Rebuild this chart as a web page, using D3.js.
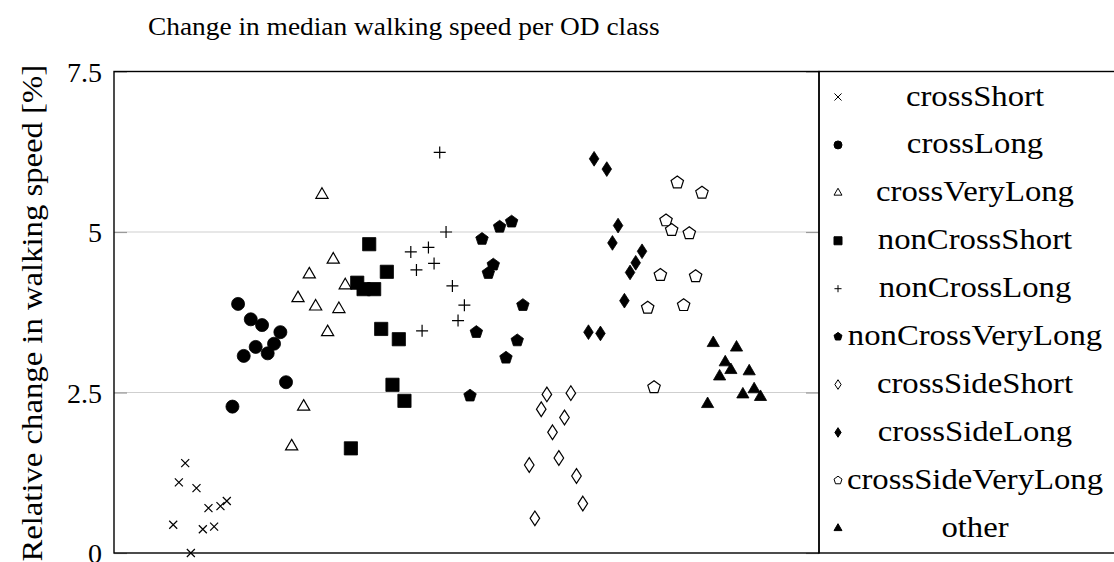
<!DOCTYPE html>
<html>
<head>
<meta charset="utf-8">
<script src="https://cdn.jsdelivr.net/npm/d3@7"></script>
<style>
  body { margin: 0; background: #fff; }
  text { font-family: "Liberation Serif", "DejaVu Serif", serif; fill: #000; }
</style>
</head>
<body>
<script>
const width = 1114;
const height = 562;

const classNames = ["crossShort", "crossLong", "crossVeryLong", "nonCrossShort", "nonCrossLong",
  "nonCrossVeryLong", "crossSideShort", "crossSideLong", "crossSideVeryLong", "other"];

const yTicks = [0, 2.5, 5, 7.5];
const yTickLabels = ["0", "2.5", "5", "7.5"];

// x is just a position along the axis (no ticks shown), y is % change
const crossShortX = [10.1, 9.2, 11.7, 13.4, 15.1, 16.0, 8.4, 12.6, 14.2, 10.9];
const crossShortY = [1.40, 1.10, 1.01, 0.70, 0.73, 0.81, 0.44, 0.37, 0.41, 0.0];
const crossLongX = [17.6, 19.4, 21.0, 23.6, 20.1, 22.7, 18.4, 21.8, 24.4, 16.8];
const crossLongY = [3.88, 3.64, 3.55, 3.44, 3.21, 3.26, 3.07, 3.11, 2.66, 2.28];
const crossVeryLongX = [29.5, 31.1, 27.7, 32.8, 26.1, 28.6, 31.9, 30.3, 26.9, 25.2];
const crossVeryLongY = [5.58, 4.57, 4.34, 4.17, 3.97, 3.84, 3.80, 3.44, 2.28, 1.66];
const nonCrossShortX = [36.2, 38.7, 34.5, 35.4, 36.9, 37.9, 40.4, 39.5, 41.2, 33.6];
const nonCrossShortY = [4.81, 4.38, 4.21, 4.11, 4.11, 3.49, 3.33, 2.62, 2.37, 1.63];
const nonCrossLongX = [46.2, 47.1, 42.1, 44.6, 42.9, 45.4, 48.0, 49.7, 48.8, 43.7];
const nonCrossLongY = [6.24, 5.00, 4.69, 4.76, 4.41, 4.51, 4.16, 3.86, 3.62, 3.46];
const nonCrossVeryLongX = [56.4, 54.7, 52.2, 53.8, 53.1, 58.0, 51.4, 57.2, 55.6, 50.5];
const nonCrossVeryLongY = [5.16, 5.08, 4.89, 4.49, 4.36, 3.86, 3.44, 3.31, 3.04, 2.45];
const crossSideShortX = [61.4, 64.8, 60.6, 63.9, 62.2, 63.1, 58.9, 65.6, 66.5, 59.7];
const crossSideShortY = [2.47, 2.49, 2.24, 2.11, 1.88, 1.48, 1.37, 1.20, 0.77, 0.54];
const crossSideLongX = [68.1, 69.9, 71.5, 70.7, 74.9, 74.0, 73.2, 72.4, 67.3, 69.0];
const crossSideLongY = [6.14, 5.98, 5.10, 4.83, 4.70, 4.52, 4.37, 3.93, 3.44, 3.42];
const crossSideVeryLongX = [79.9, 83.4, 78.3, 79.1, 81.6, 77.5, 82.5, 75.7, 80.8, 76.6];
const crossSideVeryLongY = [5.77, 5.61, 5.18, 5.03, 4.98, 4.33, 4.31, 3.82, 3.86, 2.58];
const otherX = [85.0, 88.3, 86.7, 87.5, 90.1, 85.9, 90.8, 89.2, 91.7, 84.2];
const otherY = [3.27, 3.20, 2.97, 2.85, 2.83, 2.75, 2.55, 2.47, 2.43, 2.32];

const seriesX = [crossShortX, crossLongX, crossVeryLongX, nonCrossShortX, nonCrossLongX,
  nonCrossVeryLongX, crossSideShortX, crossSideLongX, crossSideVeryLongX, otherX];
const seriesY = [crossShortY, crossLongY, crossVeryLongY, nonCrossShortY, nonCrossLongY,
  nonCrossVeryLongY, crossSideShortY, crossSideLongY, crossSideVeryLongY, otherY];

// marker shapes, drawn with d3.symbol via custom types
function polygon(pts) {
  return function(ctx) {
    ctx.moveTo(pts[0][0], pts[0][1]);
    for (let i = 1; i < pts.length; i++) ctx.lineTo(pts[i][0], pts[i][1]);
    ctx.closePath();
  };
}
const shapes = {
  times: {draw(ctx, s) { const r = Math.sqrt(s) / 2; ctx.moveTo(-r, -r); ctx.lineTo(r, r); ctx.moveTo(-r, r); ctx.lineTo(r, -r); }},
  plus: {draw(ctx, s) { const r = Math.sqrt(s) / 2; ctx.moveTo(-r, 0); ctx.lineTo(r, 0); ctx.moveTo(0, -r); ctx.lineTo(0, r); }},
  circle: {draw(ctx, s) { const r = Math.sqrt(s) / 2; ctx.moveTo(r, 0); ctx.arc(0, 0, r, 0, 2 * Math.PI); }},
  square: {draw(ctx, s) { const r = Math.sqrt(s) / 2; ctx.rect(-r, -r, 2 * r, 2 * r); }},
  triangle: {draw(ctx, s) { const r = Math.sqrt(s) / 2 * 1.15; polygon([[0, -r], [r * 0.866, r * 0.5], [-r * 0.866, r * 0.5]])(ctx); }},
  diamond: {draw(ctx, s) { const h = Math.sqrt(s) / 2 * 1.2, w = h * 0.65; polygon([[0, -h], [w, 0], [0, h], [-w, 0]])(ctx); }},
  pentagon: {draw(ctx, s) { const r = Math.sqrt(s) / 2 * 1.05; const p = d3.range(5).map(k => { const a = -Math.PI / 2 + k * 2 * Math.PI / 5; return [r * Math.cos(a), r * Math.sin(a)]; }); polygon(p)(ctx); }}
};
const markerShape = ["times", "circle", "triangle", "square", "plus", "pentagon", "diamond", "diamond", "pentagon", "triangle"];
const markerFill = ["none", "#000", "#fff", "#000", "none", "#000", "#fff", "#000", "#fff", "#000"];
const markerSize = {times: 64, plus: 144, circle: 170, square: 175, triangle: 150, diamond: 150, pentagon: 155};

const margin = {left: 114, right: 819, top: 71.5, bottom: 553};

// liberation serif is narrower than the computer modern of the original
function widen(sel, k) {
  sel.each(function() {
    const w = this.getComputedTextLength();
    d3.select(this).attr("textLength", w * k).attr("lengthAdjust", "spacingAndGlyphs");
  });
}

const svg = d3.select("body").append("svg")
  .attr("width", width)
  .attr("height", height);

const x = d3.scaleLinear().domain([0, 100]).range([margin.left, margin.right]);
const y = d3.scaleLinear().domain([0, 7.5]).range([margin.bottom, margin.top]);

// grid lines
svg.append("g").selectAll("line")
  .data([2.5, 5])
  .enter().append("line")
  .attr("x1", margin.left).attr("x2", margin.right)
  .attr("y1", d => y(d)).attr("y2", d => y(d))
  .attr("stroke", "#cfcfcf").attr("stroke-width", 1.2);

// inner tick marks on both sides
const yAxisL = d3.axisRight(y).tickValues(yTicks).tickSize(13).tickFormat("");
const yAxisR = d3.axisLeft(y).tickValues(yTicks).tickSize(13).tickFormat("");
svg.append("g").attr("transform", `translate(${margin.left},0)`).call(yAxisL)
  .call(g => g.select(".domain").remove())
  .selectAll("line").attr("stroke", "#9a9a9a").attr("stroke-width", 1.2);
svg.append("g").attr("transform", `translate(${margin.right},0)`).call(yAxisR)
  .call(g => g.select(".domain").remove())
  .selectAll("line").attr("stroke", "#9a9a9a").attr("stroke-width", 1.2);

// tick labels
svg.append("g").selectAll("text")
  .data(yTicks)
  .enter().append("text")
  .attr("x", 102)
  .attr("y", d => y(d) + 10)
  .attr("text-anchor", "end")
  .style("font-size", "28px")
  .text((d, i) => yTickLabels[i]);

// points
seriesX.forEach(function(xs, i) {
  const sym = d3.symbol().type(shapes[markerShape[i]]).size(markerSize[markerShape[i]]);
  svg.append("g").selectAll("path")
    .data(xs.map((v, j) => [v, seriesY[i][j]]))
    .enter().append("path")
    .attr("d", sym)
    .attr("transform", d => `translate(${x(d[0])},${y(d[1])})`)
    .attr("fill", markerFill[i])
    .attr("stroke", "#000")
    .attr("stroke-width", markerFill[i] === "#000" ? 0.8 : 1.2);
});

// frame
svg.append("rect")
  .attr("x", margin.left).attr("y", margin.top)
  .attr("width", margin.right - margin.left).attr("height", margin.bottom - margin.top)
  .attr("fill", "none").attr("stroke", "#000").attr("stroke-width", 1.4);

// legend box, runs off the right edge
svg.append("rect")
  .attr("x", margin.right).attr("y", margin.top)
  .attr("width", 320).attr("height", margin.bottom - margin.top)
  .attr("fill", "none").attr("stroke", "#000").attr("stroke-width", 1.4);

const legendY = d3.scalePoint().domain(classNames).range([97, 528.3]);
const legend = svg.append("g").selectAll("g")
  .data(classNames)
  .enter().append("g")
  .attr("transform", d => `translate(0,${legendY(d)})`);
legend.append("path")
  .attr("d", (d, i) => d3.symbol().type(shapes[markerShape[i]]).size(markerShape[i] === "times" || markerShape[i] === "plus" ? 50 : 64)())
  .attr("transform", "translate(838,0)")
  .attr("fill", (d, i) => markerFill[i])
  .attr("stroke", "#000")
  .attr("stroke-width", 1);
legend.append("text")
  .attr("x", 975)
  .attr("y", 8.5)
  .attr("text-anchor", "middle")
  .style("font-size", "30px")
  .text(d => d)
  .call(widen, 1.09);

// title
svg.append("text")
  .attr("x", 148)
  .attr("y", 35)
  .style("font-size", "25px")
  .text("Change in median walking speed per OD class")
  .call(widen, 1.095);

// y axis label
svg.append("text")
  .attr("transform", `translate(42,${(margin.top + margin.bottom) / 2 + 1}) rotate(-90)`)
  .attr("text-anchor", "middle")
  .style("font-size", "30px")
  .text("Relative change in walking speed [%]")
  .call(widen, 1.09);
</script>
</body>
</html>
